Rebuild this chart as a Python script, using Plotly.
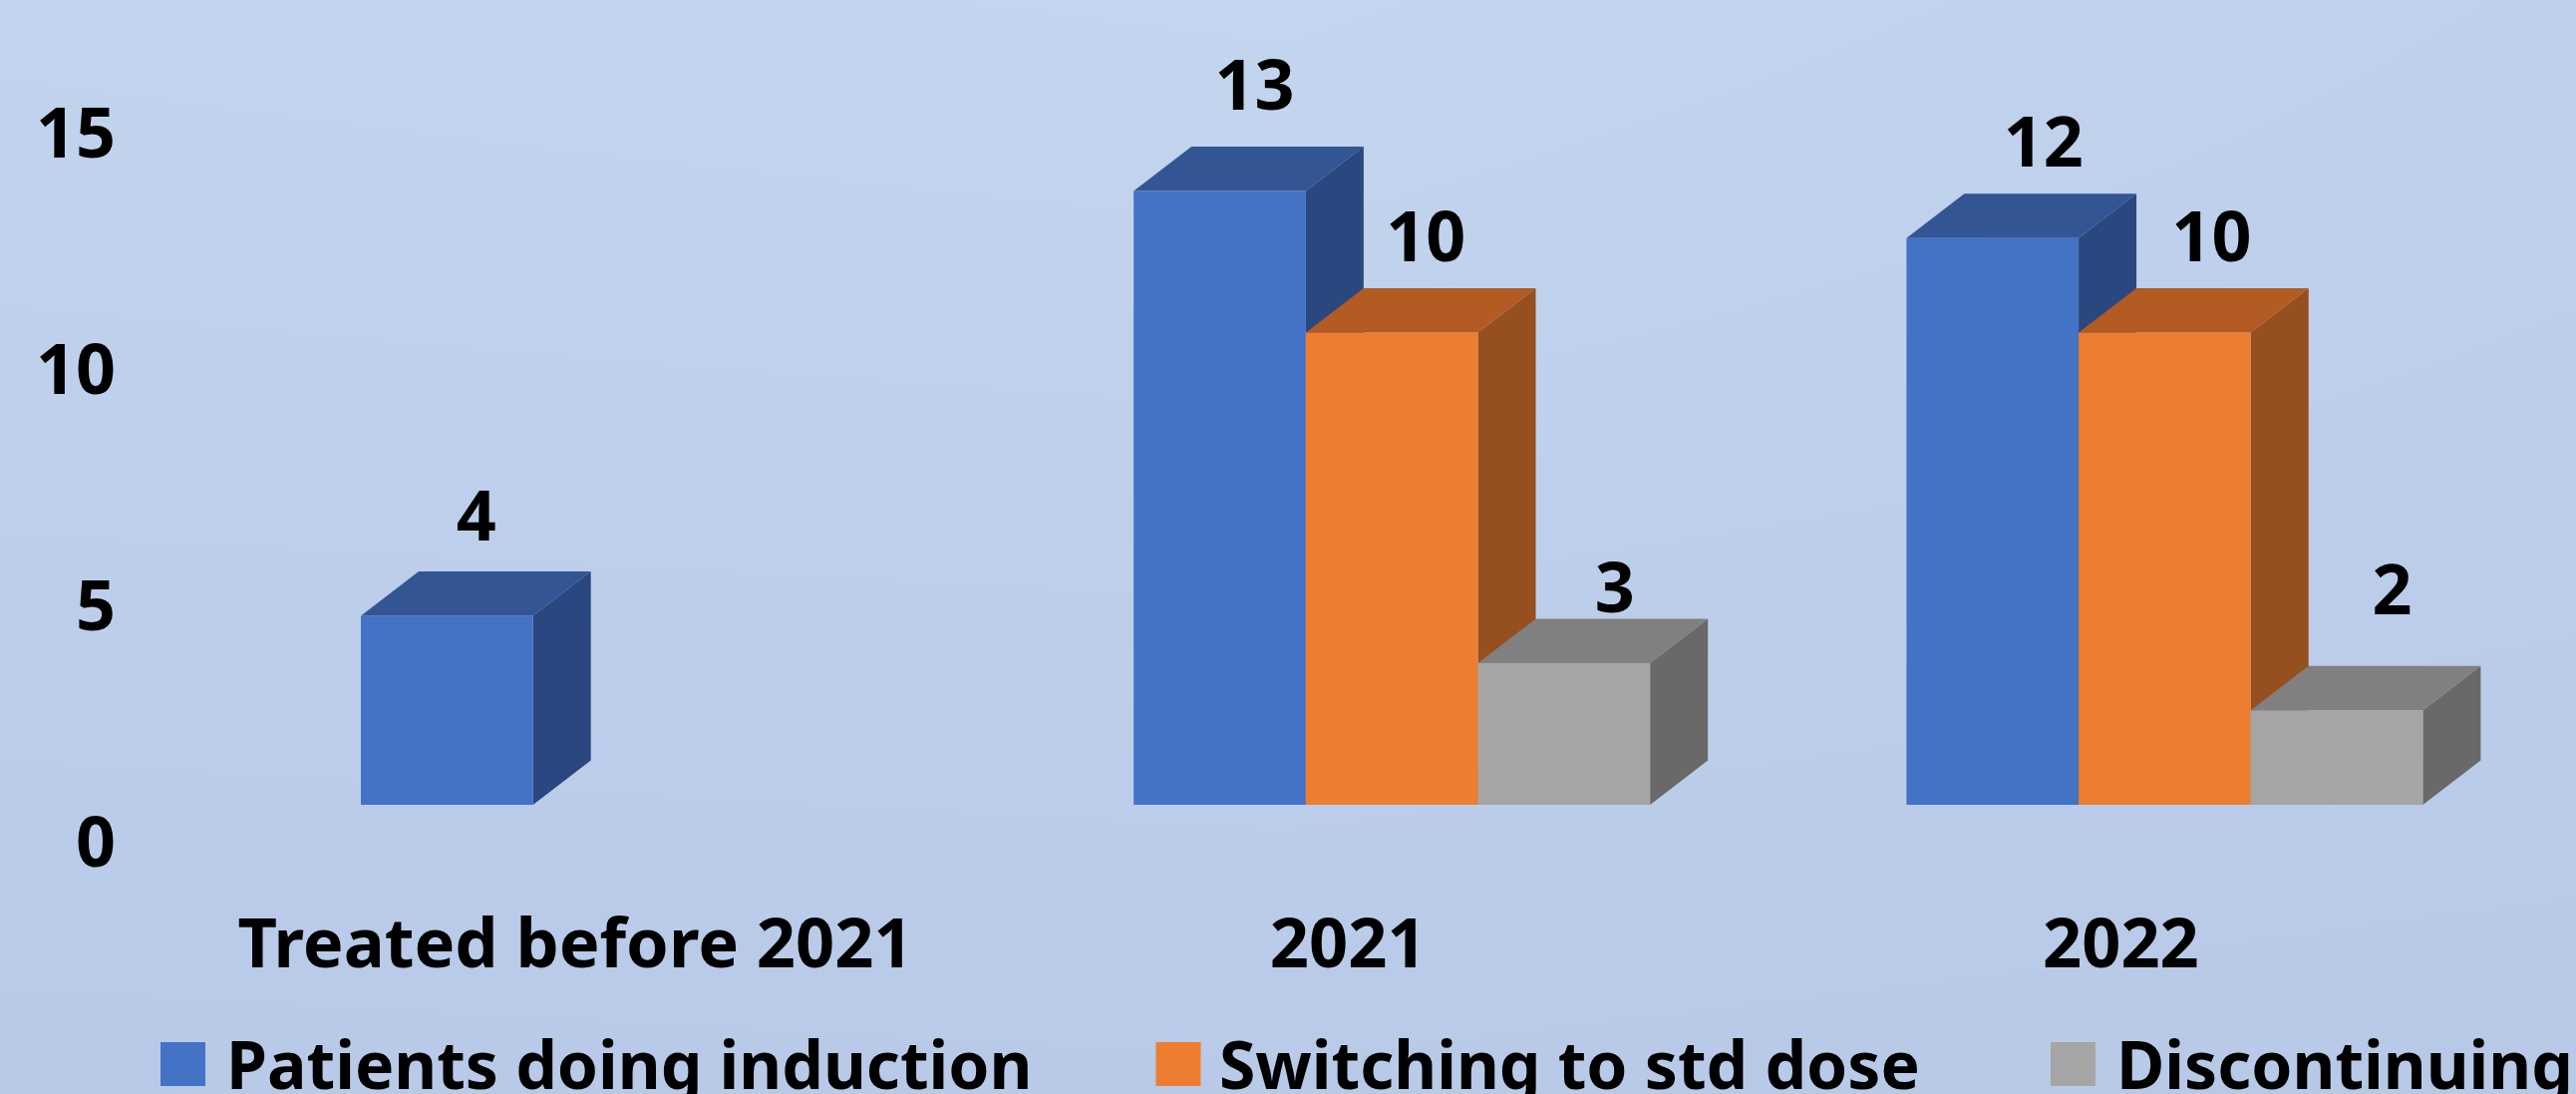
import plotly.graph_objects as go

# ---- data ----
categories = ["Treated before 2021", "2021", "2022"]
series_names = ["Patients doing induction", "Switching to std dose", "Discontinuing"]
induction = [4, 13, 12]
switching = [None, 10, 10]
discontinuing = [None, 3, 2]
y_ticks = [0, 5, 10, 15]

# ---- style ----
front_colors = ["#4472C4", "#ED7D31", "#A5A5A5"]
top_colors = ["#335593", "#B25B22", "#808080"]
side_colors = ["#2A4780", "#964F1E", "#696969"]
FONT = "Noto Sans"
W, H = 2584, 1097
PX_PER_UNIT = 47.35
PX_PER_GROUP = 775.2
FLOOR_PX = 807.0
GROUP0_PX = 621.0
BARGAP = 0.3318
DEPTH_X = 58.0 / PX_PER_GROUP
DEPTH_Y = 44.5 / PX_PER_UNIT
x_range = [-GROUP0_PX / PX_PER_GROUP, (W - GROUP0_PX) / PX_PER_GROUP]
y_range = [(FLOOR_PX - H) / PX_PER_UNIT, FLOOR_PX / PX_PER_UNIT]
bar_w = (1 - BARGAP) / 3

# hand-placed label offsets from the centre of the bar front / above the bar top (px)
label_dx = [[29.5, 35, 51], [0, 34, 47], [0, 51, 55.5]]
label_dy = [[93, 99, 89], [0, 89, 89], [0, 68, 114]]

bg_z = [[0.15, 0.0, 0.4], [0.55, 0.5, 0.65], [0.95, 0.9, 1.0]]

fig = go.Figure()

# gradient backdrop
fig.add_trace(go.Heatmap(
    x=[x_range[0], sum(x_range) / 2, x_range[1]],
    y=[y_range[1], sum(y_range) / 2, y_range[0]],
    z=bg_z, zsmooth="best", showscale=False, hoverinfo="skip",
    colorscale=[[0, "#C4D5EF"], [1, "#B7C9E7"]],
))

# receding faces, left to right so that nearer faces cover farther ones
all_series = [induction, switching, discontinuing]
for i, values in enumerate(all_series):
    for g, v in enumerate(values):
        if v is None:
            continue
        x0 = g + (i - 1.5) * bar_w
        x1 = x0 + bar_w
        fig.add_trace(go.Scatter(
            x=[x1, x1 + DEPTH_X, x1 + DEPTH_X, x1, x1],
            y=[0, DEPTH_Y, v + DEPTH_Y, v, 0],
            mode="lines", fill="toself", fillcolor=side_colors[i],
            line=dict(width=0), showlegend=False, hoverinfo="skip"))
        fig.add_trace(go.Scatter(
            x=[x0, x1, x1 + DEPTH_X, x0 + DEPTH_X, x0],
            y=[v, v, v + DEPTH_Y, v + DEPTH_Y, v],
            mode="lines", fill="toself", fillcolor=top_colors[i],
            line=dict(width=0), showlegend=False, hoverinfo="skip"))

# front faces on an overlaid copy of the axes
for i, values in enumerate(all_series):
    fig.add_trace(go.Bar(
        x=list(range(len(categories))), y=values, name=series_names[i],
        marker=dict(color=front_colors[i], line=dict(width=0)),
        xaxis="x2", yaxis="y2", showlegend=False))

# value labels
for i, values in enumerate(all_series):
    xs, ys, ts = [], [], []
    for g, v in enumerate(values):
        if v is None:
            continue
        xs.append(g + (i - 1) * bar_w + label_dx[i][g] / PX_PER_GROUP)
        ys.append(v + label_dy[i][g] / PX_PER_UNIT)
        ts.append(str(v))
    fig.add_trace(go.Scatter(
        x=xs, y=ys, text=ts, mode="text", textposition="middle center",
        textfont=dict(family=FONT, size=70, color="black", weight="bold"),
        xaxis="x2", yaxis="y2", showlegend=False, hoverinfo="skip"))

# legend drawn to scale
legend_swatch_px = [161, 1159.5, 2057]
legend_text_px = [226, 1222, 2122]
shapes, annotations = [], []
for i, name in enumerate(series_names):
    shapes.append(dict(
        type="rect", xref="paper", yref="paper", line=dict(width=0),
        x0=legend_swatch_px[i] / W, x1=(legend_swatch_px[i] + 45) / W,
        y0=1 - 1089 / H, y1=1 - 1045 / H, fillcolor=front_colors[i]))
    annotations.append(dict(
        xref="paper", yref="paper", x=legend_text_px[i] / W, y=1 - 1066 / H,
        xanchor="left", yanchor="middle", text=f"<b>{name}</b>", showarrow=False,
        borderpad=0, font=dict(family=FONT, size=66, color="black")))

tickfont = dict(family=FONT, size=70, color="black", weight="bold")
fig.update_layout(
    width=W, height=H, margin=dict(l=0, r=0, t=0, b=0),
    paper_bgcolor="#BCCDE9", plot_bgcolor="rgba(0,0,0,0)",
    barmode="group", bargap=BARGAP, bargroupgap=0, showlegend=False,
    shapes=shapes, annotations=annotations,
    xaxis=dict(range=x_range, anchor="free", position=(H - FLOOR_PX) / H,
               tickmode="array", tickvals=list(range(len(categories))), ticktext=categories,
               tickfont=dict(family=FONT, size=68.5, color="black", weight="bold"),
               ticklabelshift=-44, ticklabelstandoff=93,
               showgrid=False, zeroline=False, showline=False, ticks=""),
    yaxis=dict(range=y_range, anchor="free", position=116 / W,
               tickmode="array", tickvals=y_ticks, ticktext=[str(t) for t in y_ticks],
               tickfont=tickfont, ticklabelshift=37,
               showgrid=False, zeroline=False, showline=False, ticks=""),
    xaxis2=dict(range=x_range, overlaying="x", visible=False),
    yaxis2=dict(range=y_range, overlaying="y", visible=False),
)

fig.write_html("out.html", config=dict(displayModeBar=False),
               post_script="document.body.style.margin='0';document.body.style.overflow='hidden';")
